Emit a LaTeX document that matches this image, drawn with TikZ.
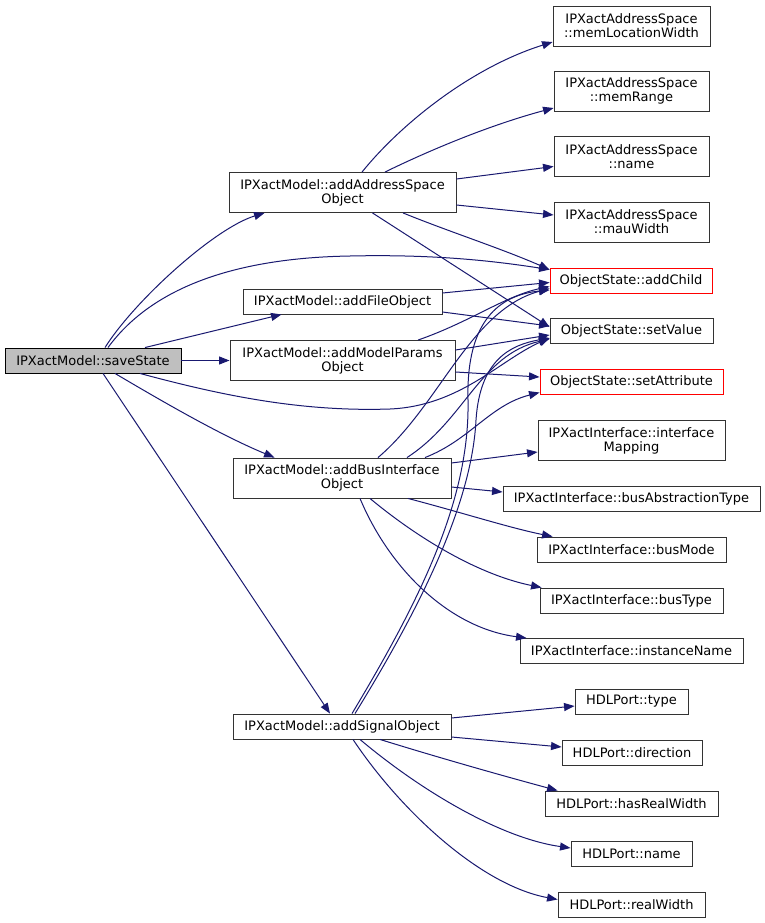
\documentclass[tikz,border=0pt]{standalone}
\usepackage{fontspec}
\setmainfont{DejaVu Sans}
\usetikzlibrary{arrows.meta,calc}
\definecolor{edgeblue}{HTML}{191970}

\begin{document}
\begin{tikzpicture}[x=1pt,y=-1pt,>={Triangle[length=10.5pt,width=8pt]},
  every edge/.append style={draw=edgeblue,line width=1pt,->},
  call/.style={draw=edgeblue,line width=1pt,->},
  fn node/.style={rectangle,draw=black!80,fill=white,line width=0.9pt,inner sep=0pt,
    align=center,minimum height=25pt,font=\fontsize{13}{14}\selectfont},
  two line/.style={minimum height=40pt},
  red node/.style={fn node,draw=red},
  cur node/.style={fn node,fill=black!25,draw=black}]

\fill[white] (0,0) rectangle (765,923);
\useasboundingbox (0,0) rectangle (765,923);

% callers
\node[cur node,minimum width=176pt](save) at (93,360.5) {IPXactModel::saveState};
\node[fn node,two line,minimum width=227pt](addAS) at (342.5,192.5) {IPXactModel::addAddressSpace\\Object};
\node[fn node,minimum width=199pt](addFile) at (342.5,301.5) {IPXactModel::addFileObject};
\node[fn node,two line,minimum width=225pt](addMP) at (342.5,360.5) {IPXactModel::addModelParams\\Object};
\node[fn node,two line,minimum width=218pt](addBI) at (342,478) {IPXactModel::addBusInterface\\Object};
\node[fn node,minimum width=218pt](addSig) at (342,726.5) {IPXactModel::addSignalObject};

% callees
\node[fn node,two line,minimum width=157pt](memLW) at (631.5,26) {IPXactAddressSpace\\::memLocationWidth};
\node[fn node,two line,minimum width=155pt](memR) at (631.5,91) {IPXactAddressSpace\\::memRange};
\node[fn node,two line,minimum width=155pt](asName) at (631.5,156.5) {IPXactAddressSpace\\::name};
\node[fn node,two line,minimum width=155pt](mauW) at (631.5,222) {IPXactAddressSpace\\::mauWidth};
\node[red node,minimum width=162pt](addChild) at (631,280.5) {ObjectState::addChild};
\node[fn node,minimum width=163pt](setVal) at (631.5,331) {ObjectState::setValue};
\node[red node,minimum width=183pt](setAttr) at (631.5,381.5) {ObjectState::setAttribute};
\node[fn node,two line,minimum width=187pt](ifMap) at (631.5,440.5) {IPXactInterface::interface\\Mapping};
\node[fn node,minimum width=257pt](busAbs) at (631.5,499) {IPXactInterface::busAbstractionType};
\node[fn node,minimum width=189pt](busMode) at (631.5,549.5) {IPXactInterface::busMode};
\node[fn node,minimum width=183pt](busType) at (631.5,600.5) {IPXactInterface::busType};
\node[fn node,minimum width=223pt](instName) at (631.5,651) {IPXactInterface::instanceName};
\node[fn node,minimum width=113pt](pType) at (631.5,701.5) {HDLPort::type};
\node[fn node,minimum width=140pt](pDir) at (632,752.5) {HDLPort::direction};
\node[fn node,minimum width=173pt](pHas) at (631.5,803.5) {HDLPort::hasRealWidth};
\node[fn node,minimum width=121pt](pName) at (631.5,854) {HDLPort::name};
\node[fn node,minimum width=147pt](pReal) at (631.5,904.5) {HDLPort::realWidth};

% straight calls
\path
($(save.north)+(52,0)$) edge ($(addFile.south west)+(39,0)$)
(save) edge (addMP)
($(save.south)+(10,0)$) edge ($(addSig.north)+(-12,0)$)
($(addAS.east)+(0,-13.5)$) edge ($(asName.west)+(0,10)$)
($(addAS.east)+(0,12.5)$) edge ($(mauW.west)+(0,-7)$)
($(addAS.south)+(30,0)$) edge ($(setVal.west)+(0,-4)$)
($(addFile.east)+(0,-8.5)$) edge ($(addChild.west)+(0,2)$)
($(addFile.east)+(0,10.5)$) edge ($(setVal.west)+(0,-5)$)
($(addMP.east)+(0,-10.5)$) edge ($(setVal.west)+(0,4)$)
($(addMP.east)+(0,11.5)$) edge ($(setAttr.west)+(0,-4.5)$)
($(addBI.east)+(0,-15)$) edge ($(ifMap.west)+(0,11.5)$)
($(addBI.east)+(0,9)$) edge ($(busAbs.west)+(0,-7)$)
($(addSig.east)+(0,-8.5)$) edge ($(pType.west)+(0,4.5)$)
($(addSig.east)+(0,10.5)$) edge ($(pDir.west)+(0,-5.5)$);

% curved calls
\draw[call] ($(save.north)+(12,0)$) .. controls (135,300) and (215,228) .. ($(addAS.south west)+(36,0)$);
\draw[call] ($(save.north)+(15,0)$) .. controls (150,290) and (230,258) .. (350,256)
  .. controls (440,254) and (500,262) .. ($(addChild.north west)+(0,2)$);
\draw[call] ($(save.south)+(47,0)$) .. controls (220,395) and (300,412) .. (390,409)
  .. controls (460,406) and (500,360) .. ($(setVal.west)+(0,7)$);
\draw[call] ($(save.south)+(22,0)$) .. controls (160,400) and (220,435) .. ($(addBI.north west)+(42,0)$);

\draw[call] ($(addAS.north)+(19.5,0)$) .. controls (400,125) and (470,68) .. ($(memLW.west)+(0,16)$);
\draw[call] ($(addAS.north)+(42.5,0)$) .. controls (430,150) and (490,125) .. ($(memR.west)+(0,17)$);
\draw[call] ($(addAS.south)+(60.5,0)$) .. controls (450,232) and (500,248) .. ($(addChild.north west)+(0,2)$);

\draw[call] ($(addMP.north)+(75.5,0)$) .. controls (470,322) and (505,296) .. ($(addChild.west)+(0,6)$);

\draw[call] ($(addBI.north)+(36,0)$) .. controls (440,405) and (470,310) .. ($(addChild.west)+(0,8)$);
\draw[call] ($(addBI.north)+(65,0)$) .. controls (465,420) and (480,355) .. ($(setVal.west)+(0,8)$);
\draw[call] ($(addBI.north)+(83,0)$) .. controls (470,440) and (490,405) .. ($(setAttr.west)+(0,11)$);
\draw[call] ($(addBI.south)+(66,0)$) .. controls (460,512) and (510,528) .. ($(busMode.north west)+(16,0)$);
\draw[call] ($(addBI.south)+(28,0)$) .. controls (420,540) and (480,575) .. ($(busType.north west)+(2,0)$);
\draw[call] ($(addBI.south)+(18,0)$) .. controls (390,570) and (450,628) .. ($(instName.north west)+(7,0)$);

\draw[call] ($(addSig.north)+(10,0)$) .. controls (420,600) and (470,500) .. (468,400)
  .. controls (466,320) and (500,295) .. ($(addChild.west)+(0,9.5)$);
\draw[call] ($(addSig.north)+(13,0)$) .. controls (425,600) and (472,500) .. (476,420)
  .. controls (480,360) and (510,345) .. ($(setVal.west)+(0,7)$);
\draw[call] ($(addSig.south)+(38,0)$) .. controls (440,758) and (500,775) .. ($(pHas.north west)+(13,0)$);
\draw[call] ($(addSig.south)+(18,0)$) .. controls (420,790) and (500,838) .. ($(pName.west)+(0,-6)$);
\draw[call] ($(addSig.south)+(11,0)$) .. controls (400,810) and (480,885) .. ($(pReal.west)+(0,-5)$);

\end{tikzpicture}
\end{document}
